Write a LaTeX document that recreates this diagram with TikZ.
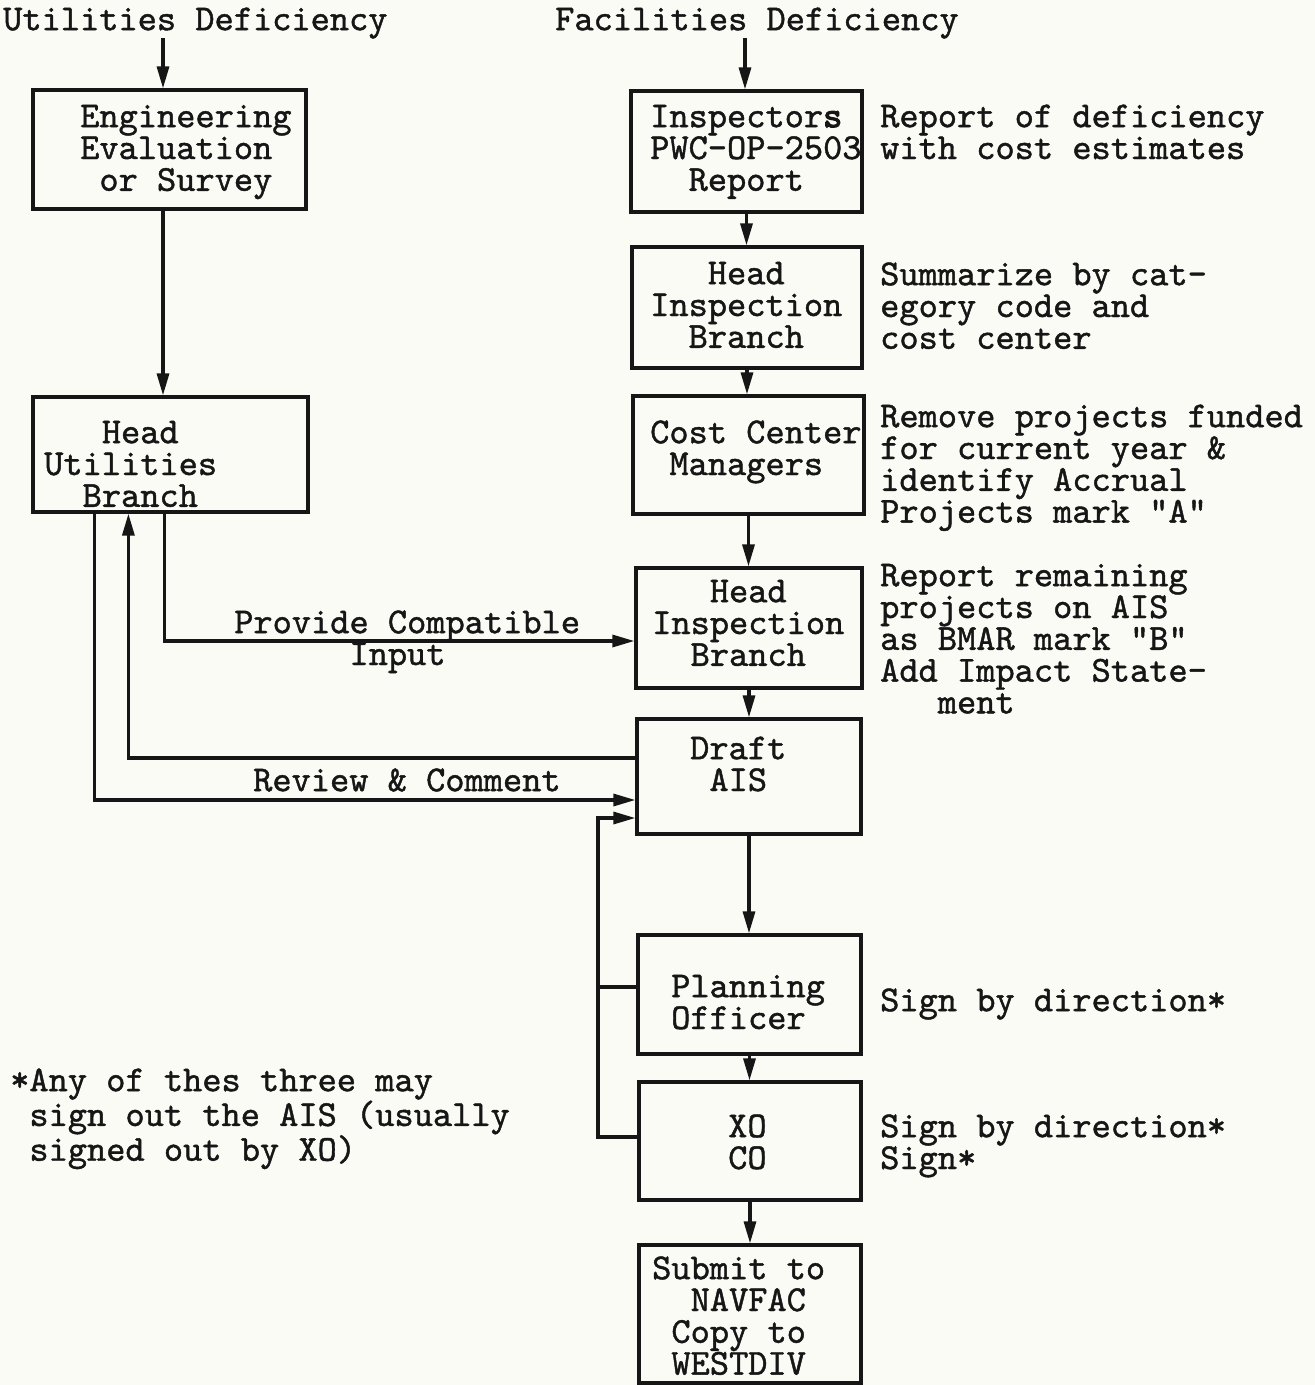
\documentclass[tikz,border=0pt]{standalone}
\usepackage{fontspec}
\usetikzlibrary{arrows.meta}
\definecolor{bg}{RGB}{251,251,246}
\definecolor{ink}{RGB}{22,22,22}
\newfontfamily\twfont{lmmono10-regular.otf}[FakeBold=1.2]
\newfontfamily\twboldfont{lmmono10-regular.otf}[FakeBold=3]
\newcommand\tw{\twfont\fontsize{36.6}{31.8}\selectfont}
\newcommand\ts{\rule{0pt}{25pt}}
\newcommand\ch{\hphantom{0}}
\begin{document}
\begin{tikzpicture}[x=1pt,y=-1pt,
  box/.style={draw=ink, line width=3.2pt, inner sep=0pt, rectangle},
  arr/.style={draw=ink, line width=3.2pt, -{Triangle[length=22pt,width=12pt]}},
  ln/.style={draw=ink, line width=3.2pt},
  txt/.style={font=\tw, text=ink, align=left, inner sep=0pt, anchor=north west}]
\fill[bg] (0,0) rectangle (1315,1385);
\useasboundingbox (0,0) rectangle (1315,1385);

% boxes
\node[box, minimum width=273pt, minimum height=119pt] (eng) at (169.5,149.5) {};
\node[box, minimum width=275pt, minimum height=115pt] (hub) at (170.5,454.5) {};
\node[box, minimum width=231pt, minimum height=121pt] (insp) at (746.5,151.5) {};
\node[box, minimum width=230pt, minimum height=121pt] (hib) at (747,307.5) {};
\node[box, minimum width=231pt, minimum height=118pt] (ccm) at (748.5,455) {};
\node[box, minimum width=226pt, minimum height=120pt] (hi2) at (749,628) {};
\node[box, minimum width=224pt, minimum height=115pt] (draft) at (749,776.5) {};
\node[box, minimum width=223pt, minimum height=119pt] (po) at (749.5,994.5) {};
\node[box, minimum width=222pt, minimum height=118pt] (xo) at (750,1141) {};
\node[box, minimum width=222pt, minimum height=138pt] (sub) at (750,1314) {};

% texts in boxes
\node[txt] (teng) at (80,102) {\ts Engineering\\Evaluation\\\ch or Survey};
\node[txt] (thub) at (44,418) {\ts\ch\ch\ch Head\\Utilities\\\ch\ch Branch};
\node[txt] (tinsp) at (650,102) {\ts Inspector{\twboldfont s}\\PWC-OP-2503\\\ch\ch Report};
\node[txt] (thib) at (650,259) {\ts\ch\ch\ch Head\\Inspection\\\ch\ch Branch};
\node[txt] (tccm) at (650,418) {\ts Cost Center\\\ch Managers};
\node[txt] (thi2) at (652,577) {\ts\ch\ch\ch Head\\Inspection\\\ch\ch Branch};
\node[txt] (tdraft) at (690,734) {\ts Draft\\\ch AIS};
\node[txt] (tpo) at (671,972) {\ts Planning\\Officer};
\node[txt] (txo) at (728,1112) {\ts XO\\CO};
\node[txt] (tsub) at (652,1254) {\ts Submit to\\\ch\ch NAVFAC\\\ch Copy to\\\ch WESTDIV};

% headings
\node[txt] (ud) at (3,5) {\ts Utilities Deficiency};
\node[txt] (fd) at (555,5) {\ts Facilities Deficiency};

% annotations
\node[txt] (a1) at (880,102) {\ts Report of deficiency\\with cost estimates};
\node[txt] (a2) at (880,260) {\ts Summarize by cat-\\egory code and\\cost center};
\node[txt] (a3) at (880,402) {\ts Remove projects funded\\for current year \&\\identify Accrual\\Projects mark "A"};
\node[txt] (a4) at (880,561) {\ts Report remaining\\projects on AIS\\as BMAR mark "B"\\Add Impact State-\\\ch\ch\ch ment};
\node[txt] (a5) at (880,986) {\ts Sign by direction*};
\node[txt] (a6) at (880,1112) {\ts Sign by direction*\\Sign*};
\node[txt] (note) at (10,1066) {\ts *Any of thes three may\\\ch sign out the AIS (usually\\\ch signed out by XO)};

% connector labels
\node[txt] (lpc) at (234,608) {\ts Provide Compatible\\\ch\ch\ch\ch\ch\ch Input};
\node[txt] (lrc) at (253,766) {\ts Review \& Comment};

% coordinates
\coordinate (udarr) at (163,38);
\coordinate (fdarr) at (745,38);
\coordinate (fbl) at (598,0);

% connectors
\draw[arr] (udarr) -- (udarr |- eng.north);
\draw[arr] (udarr |- eng.south) -- (udarr |- hub.north);
\draw[arr] (fdarr) -- (fdarr |- insp.north);
\draw[arr] (insp.south) -- (insp.south |- hib.north);
\draw[arr] (hib.south) -- (hib.south |- ccm.north);
\draw[arr] (ccm.south) -- (ccm.south |- hi2.north);
\draw[arr] (hi2.south) -- (hi2.south |- draft.north);
\draw[arr] (draft.south) -- (draft.south |- po.north);
\draw[arr] (po.south) -- (po.south |- xo.north);
\draw[arr] (xo.south) -- (xo.south |- sub.north);

\draw[arr] ([xshift=133pt]hub.south west) |- ([yshift=-13pt]hi2.west);
\draw[arr] ([xshift=63pt]hub.south west) |- ([yshift=-23.5pt]draft.west);
\draw[arr] ([yshift=18.5pt]draft.west) -| ([xshift=97pt]hub.south west);

\draw[arr] ([yshift=4pt]xo.west) -- ([yshift=4pt]xo.west -| fbl) |- ([yshift=-41.5pt]draft.west);
\draw[ln] ([yshift=7.5pt]po.west) -- ([yshift=7.5pt]po.west -| fbl);
\end{tikzpicture}
\end{document}
